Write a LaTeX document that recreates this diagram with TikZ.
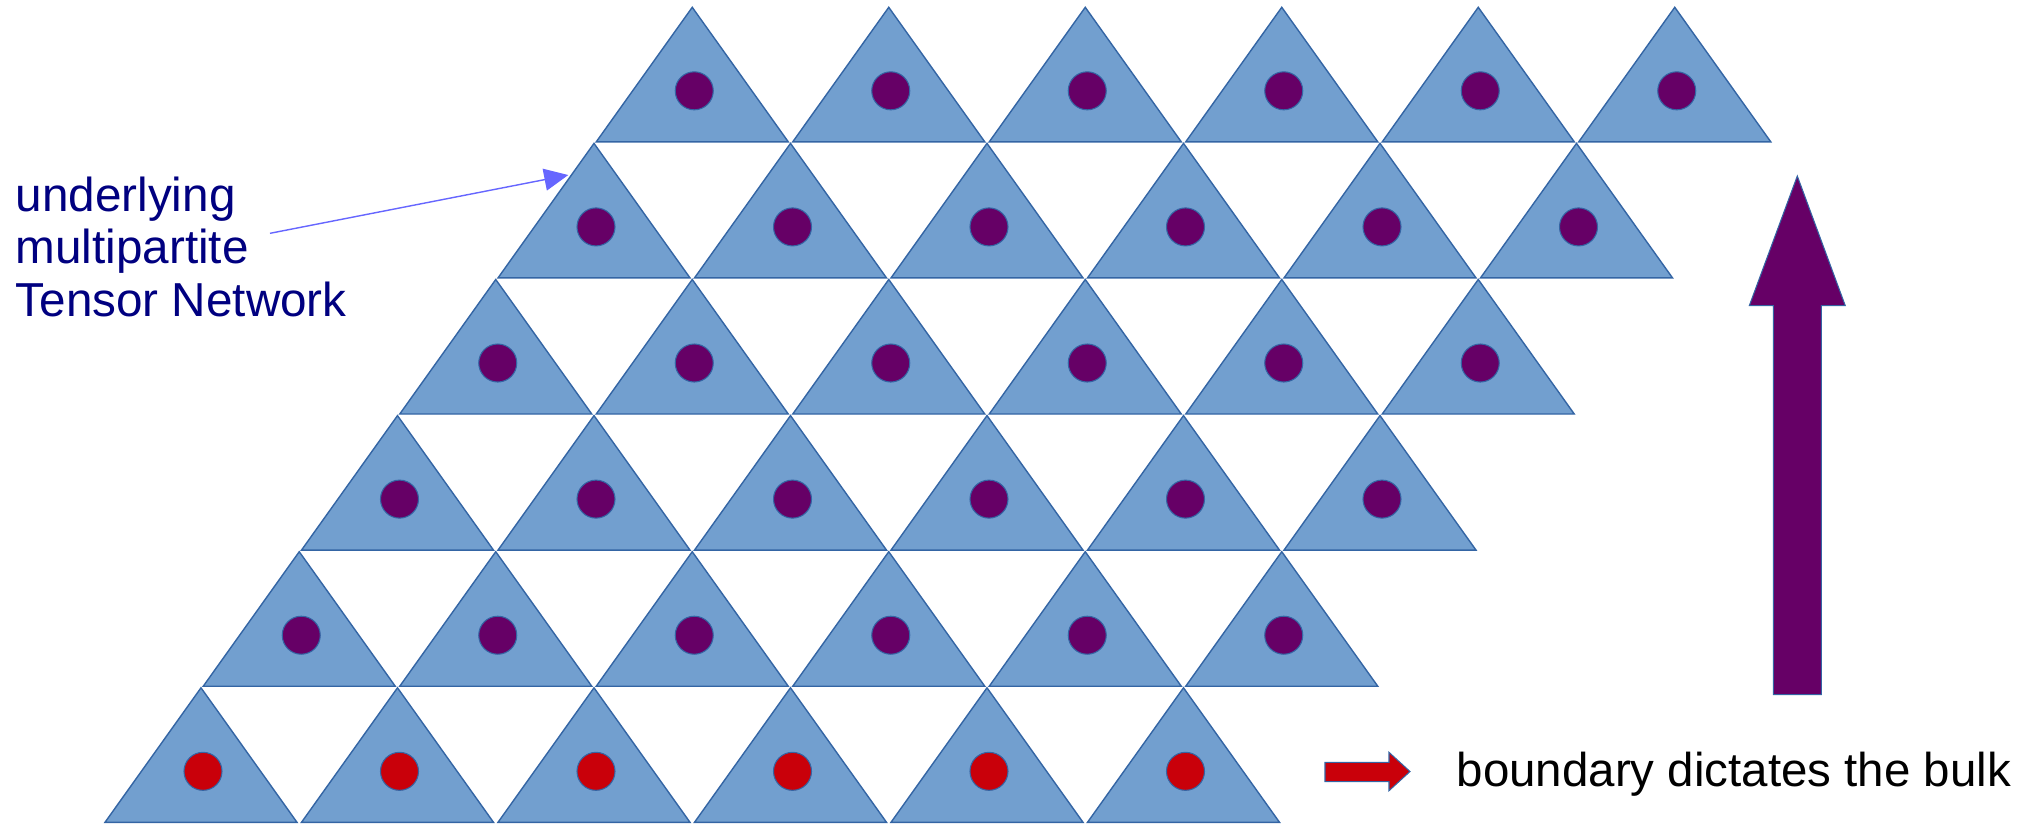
\documentclass[tikz,border=0pt]{standalone}
\usepackage{fontspec}
\setmainfont{Liberation Sans}
\usetikzlibrary{arrows.meta, calc, positioning}
\definecolor{tnblue}{HTML}{729FCF}
\definecolor{tnedge}{HTML}{3465A4}
\definecolor{bulkpurple}{HTML}{660066}
\definecolor{bdyred}{HTML}{C9000A}
\definecolor{lblnavy}{HTML}{000080}
\definecolor{lblarrow}{HTML}{6666FF}

\begin{document}
\begin{tikzpicture}[
    x=0.01cm, y=-0.01cm,
    tensor/.style={fill=tnblue, draw=tnedge, line width=0.4pt},
    site/.style={circle, draw=tnedge, line width=0.3pt, minimum size=0.38cm, inner sep=0pt},
    bulk/.style={site, fill=bulkpurple},
    bdy/.style={site, fill=bdyred},
    blockarrow/.style={draw=tnedge, line width=0.3pt},
    lbl/.style={text=lblnavy, font=\fontsize{13.55}{15}\selectfont, align=left, inner sep=0pt}
]
\useasboundingbox (0,0) rectangle (2035,823);

% triangles, row 0 is the boundary
\foreach \r in {0,...,5}{
  \foreach \c in {0,...,5}{
    \pgfmathsetmacro{\ax}{201+196.5*\c+98.25*\r}
    \pgfmathsetmacro{\by}{822.3-136.1*\r}
    \draw[tensor] (\ax-96,\by) -- (\ax,\by-134.5) -- (\ax+96,\by) -- cycle;
    \ifnum\r=0
      \node[bdy] (t\r\c) at (\ax+2,\by-51) {};
    \else
      \node[bulk] (t\r\c) at (\ax+2,\by-51) {};
    \fi
  }
}

% label with pointer
\node[lbl, anchor=base west] (tn) at (15,316.7) {underlying\\multipartite\\Tensor Network};
\coordinate (tnfrom) at (270,233.3);
\coordinate (tnto) at (568.3,175);
\draw[-{Triangle[length=0.24cm,width=0.22cm]}, lblarrow, line width=0.4pt] (tnfrom) -- (tnto);

% bulk direction
\draw[blockarrow, fill=bulkpurple] (1773.3,694.7) -- (1773.3,305.7) -- (1749.3,305.7) -- (1797.3,176)
    -- (1845.3,305.7) -- (1821.3,305.7) -- (1821.3,694.7) -- cycle;

% legend
\draw[blockarrow, fill=bdyred] (1325,762.3) -- (1389,762.3) -- (1389,752.3) -- (1410,771.5)
    -- (1389,790.7) -- (1389,781.7) -- (1325,781.7) -- cycle;
\node[anchor=base west, inner sep=0pt, font=\fontsize{13.5}{16}\selectfont] (bdytext) at (1456,786)
    {boundary dictates the bulk};
\end{tikzpicture}
\end{document}
